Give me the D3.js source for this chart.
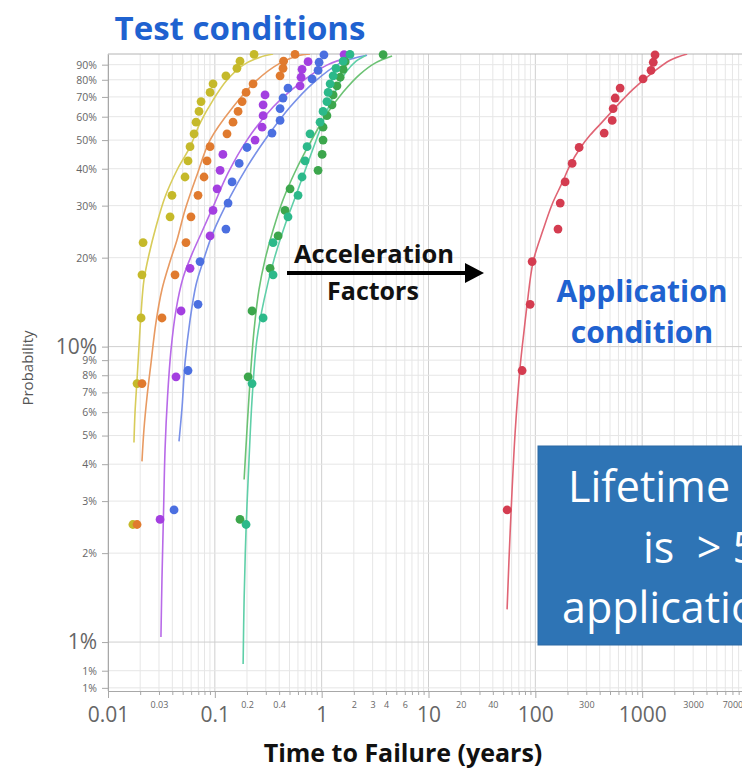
<!DOCTYPE html>
<html>
<head>
<meta charset="utf-8">
<script src="https://cdn.jsdelivr.net/npm/d3@7"></script>
<style>
  body { margin: 0; background: #fff; }
  svg { display: block; font-family: "Open Sans", sans-serif; }
</style>
</head>
<body>
<svg id="chart" width="742" height="769"></svg>
<script>
// plotting positions (%), one set per sample size
const probN20 = [2.5, 7.5, 12.5, 17.5, 22.5, 27.5, 32.5, 37.5, 42.5, 47.5, 52.5, 57.5, 62.5, 67.5, 72.5, 77.5, 82.5, 87.5, 92.5, 97.5];
const probN19 = [2.6, 7.9, 13.2, 18.4, 23.7, 28.9, 34.2, 39.5, 44.7, 50, 55.3, 60.5, 65.8, 71.1, 76.3, 81.6, 86.8, 92.1, 97.4];
const probN18 = [2.8, 8.3, 13.9, 19.4, 25, 30.6, 36.1, 41.7, 47.2, 52.8, 58.3, 63.9, 69.4, 75, 80.6, 86.1, 91.7, 97.2];

// failure times (years)
const yellowT = [0.0171, 0.0187, 0.0204, 0.0208, 0.0213, 0.0381, 0.0397, 0.0526, 0.0561, 0.0586, 0.0639, 0.0667, 0.0711, 0.0743, 0.0902, 0.0962, 0.127, 0.161, 0.172, 0.233];
const orangeT = [0.0187, 0.0208, 0.032, 0.0424, 0.0537, 0.0598, 0.0696, 0.0792, 0.0845, 0.0902, 0.130, 0.148, 0.165, 0.180, 0.196, 0.228, 0.408, 0.435, 0.44, 0.563];
const purpleT = [0.0307, 0.0433, 0.0483, 0.0586, 0.0902, 0.0962, 0.105, 0.112, 0.119, 0.238, 0.277, 0.283, 0.283, 0.295, 0.628, 0.641, 0.655, 0.746, 1.62];
const blueT = [0.0415, 0.0561, 0.0696, 0.0727, 0.127, 0.133, 0.145, 0.169, 0.200, 0.343, 0.408, 0.408, 0.435, 0.484, 0.813, 0.925, 0.946, 1.05];
const greenT = [0.172, 0.205, 0.223, 0.329, 0.391, 0.454, 0.506, 0.925, 1.01, 1.03, 1.03, 1.12, 1.25, 1.28, 1.39, 1.49, 1.59, 1.66, 3.76];
const tealT = [0.196, 0.223, 0.283, 0.351, 0.351, 0.484, 0.601, 0.655, 0.699, 0.730, 0.778, 0.966, 1.03, 1.12, 1.15, 1.20, 1.28, 1.36, 1.59, 1.84];
const redT = [54.5, 75.2, 89.4, 93.3, 163, 171, 190, 221, 257, 441, 524, 535, 559, 622, 1020, 1210, 1270, 1320];

// fitted curves [time, %]
const yellowFit = [[0.0175, 4.74], [0.0179, 5.98], [0.0187, 7.74], [0.0195, 10.0], [0.0204, 13.0], [0.0217, 16.8], [0.0242, 20.5], [0.0281, 25.4], [0.0342, 32.1], [0.0443, 39.6], [0.0586, 47.4], [0.0727, 57.1], [0.0962, 68.3], [0.130, 79.8], [0.184, 89.7], [0.265, 95.4], [0.351, 97.8]];
const orangeFit = [[0.0208, 4.09], [0.0217, 5.24], [0.0232, 6.78], [0.0253, 8.83], [0.0281, 12.05], [0.032, 15.6], [0.0372, 18.9], [0.0443, 23.0], [0.0526, 29.0], [0.0681, 38.1], [0.0902, 50.0], [0.148, 64.7], [0.248, 79.8], [0.408, 91.1], [0.628, 96.9], [0.778, 97.8]];
const purpleFit = [[0.0313, 1.04], [0.032, 1.63], [0.0331, 2.75], [0.0342, 4.49], [0.0361, 6.78], [0.0389, 9.77], [0.0433, 13.3], [0.0504, 17.1], [0.0612, 20.6], [0.0743, 24.1], [0.0962, 29.7], [0.133, 38.7], [0.200, 50.0], [0.351, 64.7], [0.628, 78.0], [1.12, 89.7], [1.97, 96.2]];
const blueFit = [[0.0462, 4.78], [0.0494, 6.27], [0.0526, 8.83], [0.0586, 12.3], [0.0667, 16.2], [0.0775, 19.4], [0.0962, 24.3], [0.139, 32.1], [0.200, 40.5], [0.308, 51.2], [0.506, 64.7], [0.831, 78.0], [1.49, 91.1], [2.66, 96.9]];
const greenFit = [[0.188, 3.55], [0.200, 5.24], [0.214, 7.74], [0.233, 11.4], [0.259, 15.6], [0.295, 19.7], [0.351, 24.8], [0.435, 31.4], [0.563, 39.0], [0.778, 48.9], [1.10, 60.8], [1.59, 72.7], [2.29, 83.6], [3.16, 91.1], [4.56, 96.2]];
const tealFit = [[0.184, 0.843], [0.188, 1.40], [0.196, 2.41], [0.209, 4.15], [0.223, 6.62], [0.248, 10.6], [0.289, 14.4], [0.358, 19.7], [0.454, 25.8], [0.576, 32.6], [0.730, 41.2], [0.925, 52.0], [1.15, 64.2], [1.39, 75.0], [1.69, 84.9], [2.10, 92.5], [2.60, 96.9]];
const redFit = [[54.4, 1.29], [58.1, 2.35], [64.7, 5.12], [72.1, 8.56], [78.6, 11.4], [83.8, 13.9], [95.4, 19.4], [118, 24.8], [144, 30.4], [178, 35.8], [212, 41.2], [263, 47.0], [326, 52.0], [422, 57.5], [535, 63.2], [664, 68.8], [824, 74.4], [1268, 84.9], [1829, 93.2], [2638, 97.8]];

// axis ticks
const yTicks = [90, 80, 70, 60, 50, 40, 30, 20, 10, 9, 8, 7, 6, 5, 4, 3, 2, 1, 0.8, 0.7];
const yTickLabels = ["90%", "80%", "70%", "60%", "50%", "40%", "30%", "20%", "10%", "9%", "8%", "7%", "6%", "5%", "4%", "3%", "2%", "1%", "1%", "1%"];
const xMajor = [0.01, 0.1, 1, 10, 100, 1000];
const xMinorLabels = [0.03, 0.2, 0.4, 2, 3, 4, 6, 20, 40, 300, 3000, 7000];

const series = [
  { t: yellowT, p: probN20, fit: yellowFit, dot: '#c5b92a', line: '#d8cc5a' },
  { t: orangeT, p: probN20, fit: orangeFit, dot: '#e07a2e', line: '#e89a62' },
  { t: purpleT, p: probN19, fit: purpleFit, dot: '#a33fe0', line: '#b86ae8' },
  { t: blueT,   p: probN18, fit: blueFit,   dot: '#4b6fe0', line: '#7890e8' },
  { t: greenT,  p: probN19, fit: greenFit,  dot: '#3ca64c', line: '#6cc274' },
  { t: tealT,   p: probN20, fit: tealFit,   dot: '#2cb98a', line: '#5fcfa8' },
  { t: redT,    p: probN18, fit: redFit,    dot: '#d43c50', line: '#e06474' }
];

const svg = d3.select('#chart');
const plot = { left: 108, top: 54, right: 749, bottom: 691 };

const x = d3.scaleLog().domain([0.01, 10000]).range([plot.left, plot.right]);
const y = d3.scaleLog().domain([0.683, 97.8]).range([plot.bottom, plot.top]);

const isMajor = d => Math.abs(Math.log10(d) - Math.round(Math.log10(d))) < 1e-6;

svg.append('defs').append('clipPath').attr('id', 'plotclip')
  .append('rect')
    .attr('x', plot.left).attr('y', plot.top)
    .attr('width', plot.right - plot.left).attr('height', plot.bottom - plot.top);

// grid
const grid = svg.append('g');
grid.selectAll('.vg').data(x.ticks()).join('line')
    .attr('x1', d => x(d)).attr('x2', d => x(d))
    .attr('y1', plot.top).attr('y2', plot.bottom)
    .attr('stroke', d => isMajor(d) ? '#cfcfcf' : '#e6e6e6')
    .attr('stroke-width', 1);
grid.selectAll('.hg').data(yTicks).join('line')
    .attr('x1', plot.left).attr('x2', plot.right)
    .attr('y1', d => y(d)).attr('y2', d => y(d))
    .attr('stroke', d => (d === 10 || d === 1) ? '#cfcfcf' : '#e6e6e6')
    .attr('stroke-width', 1);

// y axis
const yAxisG = svg.append('g')
    .attr('transform', `translate(${plot.left},0)`)
    .call(d3.axisLeft(y).tickValues(yTicks).tickSize(6).tickSizeOuter(0).tickPadding(5)
      .tickFormat((d, i) => yTickLabels[i]));
yAxisG.select('.domain').attr('stroke', '#a8a8a8');
yAxisG.selectAll('.tick line').attr('stroke', '#a8a8a8');
yAxisG.selectAll('.tick text')
    .attr('fill', '#666')
    .style('font-size', d => (d === 10 || d === 1) ? '21px' : '10.5px')
    .style('font-family', '"Open Sans", sans-serif');

// x axis: tick marks
const xAxisG = svg.append('g')
    .attr('transform', `translate(0,${plot.bottom})`)
    .call(d3.axisBottom(x).tickValues(x.ticks()).tickSize(4).tickSizeOuter(0).tickFormat(''));
xAxisG.select('.domain').attr('stroke', '#a8a8a8');
xAxisG.selectAll('.tick line').attr('stroke', '#a8a8a8')
    .attr('y2', d => isMajor(d) ? 7 : 4);

// x axis: major labels
const xMajG = svg.append('g')
    .attr('transform', `translate(0,${plot.bottom})`)
    .call(d3.axisBottom(x).tickValues(xMajor).tickSize(0).tickPadding(16)
      .tickFormat(d => String(d)));
xMajG.select('.domain').remove();
xMajG.selectAll('.tick text').attr('fill', '#666')
    .style('font-size', '21px').style('font-family', '"Open Sans", sans-serif');

// x axis: minor labels
const xMinG = svg.append('g')
    .attr('transform', `translate(0,${plot.bottom})`)
    .call(d3.axisBottom(x).tickValues(xMinorLabels).tickSize(0).tickPadding(11)
      .tickFormat(d => String(d)));
xMinG.select('.domain').remove();
xMinG.selectAll('.tick text').attr('fill', '#666')
    .style('font-size', '9px').style('font-family', '"Open Sans", sans-serif');

// top border
svg.append('line')
    .attr('x1', plot.left).attr('x2', plot.right)
    .attr('y1', plot.top).attr('y2', plot.top)
    .attr('stroke', '#b4b4b4');

// fitted curves
const lineGen = d3.line()
    .x(d => x(d[0]))
    .y(d => y(d[1]))
    .curve(d3.curveCatmullRom.alpha(0.5));

const curves = svg.append('g').attr('clip-path', 'url(#plotclip)');
series.forEach(s => {
  curves.append('path')
      .attr('d', lineGen(s.fit))
      .attr('fill', 'none')
      .attr('stroke', s.line)
      .attr('stroke-width', 1.6);
});

// data points
const dots = svg.append('g');
series.forEach(s => {
  dots.append('g').selectAll('circle')
    .data(s.t.map((t, i) => [t, s.p[i]]))
    .join('circle')
      .attr('cx', d => x(d[0]))
      .attr('cy', d => y(d[1]))
      .attr('r', 4.4)
      .attr('fill', s.dot);
});

// axis titles
svg.append('text')
    .attr('transform', 'translate(33,368) rotate(-90)')
    .attr('text-anchor', 'middle')
    .attr('fill', '#555')
    .style('font-size', '15px')
    .text('Probability');

svg.append('text')
    .attr('x', 403).attr('y', 762)
    .attr('text-anchor', 'middle')
    .attr('fill', '#111')
    .style('font-size', '25px').style('font-weight', 'bold')
    .text('Time to Failure (years)');

// annotations
svg.append('text')
    .attr('x', 240).attr('y', 40)
    .attr('text-anchor', 'middle')
    .attr('fill', '#1f62d0')
    .style('font-size', '33px').style('font-weight', 'bold')
    .text('Test conditions');

svg.append('text')
    .attr('x', 374).attr('y', 263)
    .attr('text-anchor', 'middle')
    .attr('fill', '#111')
    .style('font-size', '25.5px').style('font-weight', 'bold')
    .text('Acceleration');
svg.append('text')
    .attr('x', 373).attr('y', 300)
    .attr('text-anchor', 'middle')
    .attr('fill', '#111')
    .style('font-size', '25px').style('font-weight', 'bold')
    .text('Factors');
svg.append('line')
    .attr('x1', 287).attr('x2', 468)
    .attr('y1', 273).attr('y2', 273)
    .attr('stroke', '#000').attr('stroke-width', 4);
svg.append('path')
    .attr('d', 'M465,263 L484,273 L465,283 Z')
    .attr('fill', '#000');

svg.append('text')
    .attr('x', 642).attr('y', 302)
    .attr('text-anchor', 'middle')
    .attr('fill', '#1f62d0')
    .style('font-size', '30px').style('font-weight', 'bold')
    .text('Application');
svg.append('text')
    .attr('x', 642).attr('y', 343)
    .attr('text-anchor', 'middle')
    .attr('fill', '#1f62d0')
    .style('font-size', '30px').style('font-weight', 'bold')
    .text('condition');

// callout box, cut by the right edge as in the picture
svg.append('rect')
    .attr('x', 538).attr('y', 446)
    .attr('width', 260).attr('height', 199)
    .attr('fill', '#2e74b5')
    .attr('stroke', '#2a68a4');
const boxLines = [['Lifetime', 568, 502], ['is  > 5 years', 643, 563], ['application condition', 562, 623]];
svg.selectAll('.boxtxt').data(boxLines).join('text')
    .attr('x', d => d[1]).attr('y', d => d[2])
    .attr('fill', '#fff')
    .style('font-size', '43px')
    .style('white-space', 'pre')
    .text(d => d[0]);
</script>
</body>
</html>
